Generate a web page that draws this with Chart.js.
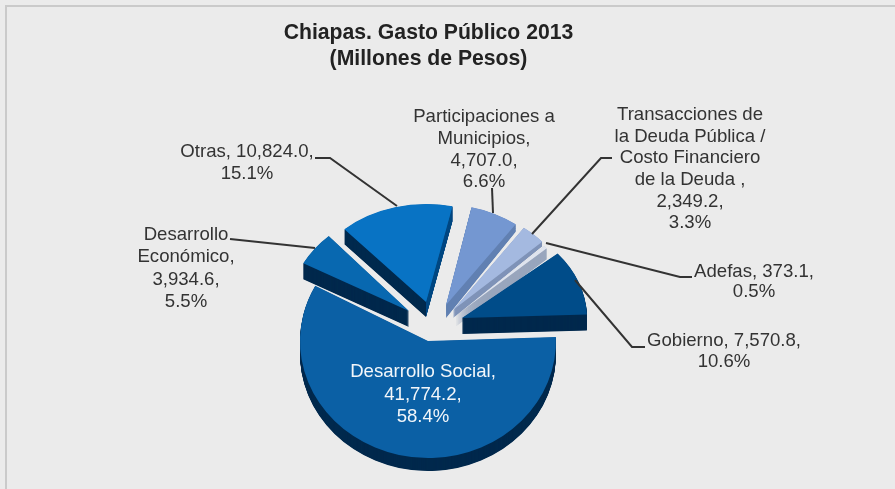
<!DOCTYPE html>
<html>
<head>
<meta charset="utf-8">
<title>Chiapas. Gasto Público 2013</title>
<script src="https://cdn.jsdelivr.net/npm/chart.js@4"></script>
<style>
    html, body { margin: 0; padding: 0; background: #ebebeb; overflow: hidden; }
    #frame { position: absolute; left: 5px; top: 5px; width: 890px; height: 484px;
             border-left: 2px solid #cacaca; border-top: 2px solid #cacaca; }
    #chart { position: absolute; left: 0; top: 0; }
</style>
</head>
<body>
<div id="frame"></div>
<canvas id="chart" width="895" height="489"></canvas>
<script>
const categories = ['Desarrollo Social', 'Desarrollo Económico', 'Otras', 'Participaciones a Municipios',
    'Transacciones de la Deuda Pública / Costo Financiero de la Deuda', 'Adefas', 'Gobierno'];
const values = [41774.2, 3934.6, 10824.0, 4707.0, 2349.2, 373.1, 7570.8];
const percents = ['58.4%', '5.5%', '15.1%', '6.6%', '3.3%', '0.5%', '10.6%'];
const valueLabels = ['41,774.2,', '3,934.6,', '10,824.0,', '4,707.0,', '2,349.2,', '373.1,', '7,570.8,'];
const nameLines = [
    ['Desarrollo Social,'],
    ['Desarrollo', 'Económico,'],
    ['Otras,'],
    ['Participaciones a', 'Municipios,'],
    ['Transacciones de', 'la Deuda Pública /', 'Costo Financiero', 'de la Deuda ,'],
    ['Adefas,'],
    ['Gobierno,']
];
const inlineValue = [false, false, true, false, false, true, true];
const titleLines = ['Chiapas. Gasto Público 2013', '(Millones de Pesos)'];

// top face and wall colours
const topColors = ['#0b60a5', '#0868b0', '#0873c4', '#7497d1', '#a4b9e0', '#dfe4ee', '#004c89'];
const wallColors = ['#00294d', '#00294d', '#00294d', '#6180b2', '#7f93b8', '#99a6bd', '#00294d'];
const rightWallColors = [null, null, '#0061a8', null, null, null, null];

// fake 3D: where each exploded slice sits and how it is squashed
const views = [
    { ax: 428, ay: 341, rx: 128, ry: 117, depth: 13, grow: 1 },
    { ax: 409, ay: 311, rx: 120, ry: 101, depth: 16, grow: 1 },
    { ax: 426, ay: 302, rx: 122, ry: 98, depth: 15, grow: 1 },
    { ax: 446, ay: 305, rx: 118, ry: 100, depth: 13, grow: 1.07 },
    { ax: 453, ay: 310, rx: 120, ry: 102, depth: 8, grow: 1.05 },
    { ax: 455, ay: 316, rx: 120, ry: 105, depth: 11, grow: 1 },
    { ax: 462, ay: 318, rx: 125, ry: 100, depth: 16, grow: 1 }
];
const drawOrder = [3, 5, 4, 6, 2, 1, 0];

const labelPlaces = [
    { x: 423, y: 372, step: 22.5, color: '#f2f6fa' },
    { x: 186, y: 235, step: 22.3, color: '#333333' },
    { x: 247, y: 152, step: 22, color: '#333333' },
    { x: 484, y: 117, step: 21.7, color: '#333333' },
    { x: 690, y: 115, step: 21.6, color: '#333333' },
    { x: 754, y: 272, step: 19.5, color: '#333333' },
    { x: 724, y: 341, step: 21, color: '#333333' }
];
const leaders = [
    null,
    [[230, 239], [315, 248]],
    [[315, 158], [330, 158], [397, 206]],
    [[492, 188], [493, 213]],
    [[612, 158], [601, 158], [532, 234]],
    [[692, 277], [680, 277], [546, 243]],
    [[645, 347], [632, 347], [575, 280]]
];

function labelText(i) {
    const lines = nameLines[i].slice();
    if (inlineValue[i]) {
        lines[lines.length - 1] += ' ' + valueLabels[i];
    } else {
        lines.push(valueLabels[i]);
    }
    lines.push(percents[i]);
    return lines;
}

function paintArc(arc, ctx, color) {
    const saved = arc.options;
    arc.options = Object.assign({}, saved, { backgroundColor: color, borderWidth: 0 });
    arc.draw(ctx);
    arc.options = saved;
}

const fakeDepth = {
    id: 'fakeDepth',
    beforeDatasetDraw(chart, args) {
        const ctx = chart.ctx;
        const arcs = args.meta.data;
        drawOrder.forEach(i => {
            const arc = arcs[i];
            const v = views[i];
            const place = (dy, k) => {
                ctx.translate(v.ax, v.ay + dy);
                ctx.scale(v.rx / arc.outerRadius, k * v.ry / arc.outerRadius);
                ctx.translate(-arc.x, -arc.y);
            };
            for (let d = v.depth; d > 0; d -= 0.5) {
                ctx.save();
                place(d, 1 + (v.grow - 1) * d / v.depth);
                paintArc(arc, ctx, wallColors[i]);
                ctx.restore();
                if (rightWallColors[i]) {
                    ctx.save();
                    ctx.beginPath();
                    ctx.rect(v.ax, 0, 895, 489);
                    ctx.clip();
                    place(d, 1);
                    paintArc(arc, ctx, rightWallColors[i]);
                    ctx.restore();
                }
            }
            ctx.save();
            place(0, 1);
            paintArc(arc, ctx, topColors[i]);
            ctx.restore();
        });
        return false;
    }
};

const sliceLabels = {
    id: 'sliceLabels',
    afterDraw(chart) {
        const ctx = chart.ctx;
        ctx.save();
        ctx.strokeStyle = '#333333';
        ctx.lineWidth = 2;
        leaders.forEach(points => {
            if (!points) return;
            ctx.beginPath();
            points.forEach((p, n) => n ? ctx.lineTo(p[0], p[1]) : ctx.moveTo(p[0], p[1]));
            ctx.stroke();
        });
        ctx.font = '18.6px "Liberation Sans", Arial, sans-serif';
        ctx.textAlign = 'center';
        ctx.textBaseline = 'middle';
        labelPlaces.forEach((p, i) => {
            ctx.fillStyle = p.color;
            labelText(i).forEach((line, n) => ctx.fillText(line, p.x, p.y + n * p.step));
        });
        ctx.restore();
    }
};

new Chart(document.getElementById('chart'), {
    type: 'pie',
    data: {
        labels: categories,
        datasets: [{
            data: values,
            backgroundColor: topColors,
            borderWidth: 0
        }]
    },
    options: {
        responsive: false,
        animation: false,
        devicePixelRatio: 1,
        rotation: 88,
        layout: { padding: { right: 38 } },
        plugins: {
            legend: { display: false },
            tooltip: { enabled: false },
            title: {
                display: true,
                text: titleLines,
                color: '#222222',
                padding: { top: 20, bottom: 10 },
                font: { family: '"Liberation Sans", Arial, sans-serif', size: 21.2, weight: 'bold', lineHeight: 1.23 }
            }
        }
    },
    plugins: [fakeDepth, sliceLabels]
});
</script>
</body>
</html>
